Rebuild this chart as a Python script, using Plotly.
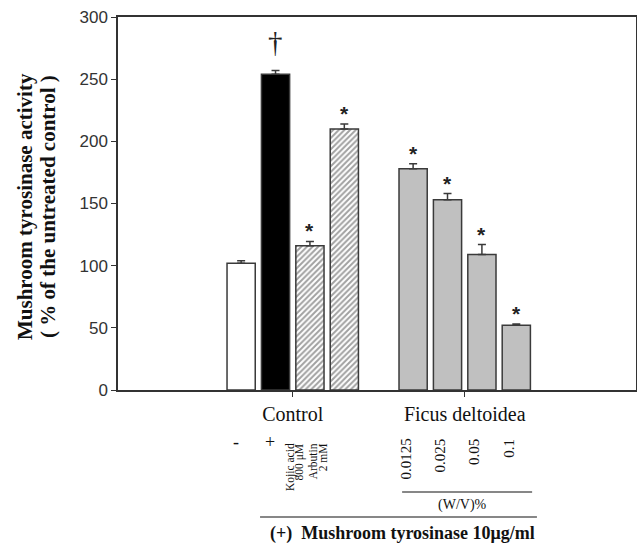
import plotly.graph_objects as go

# ---- data ----
positions = [0, 1, 2, 3, 5, 6, 7, 8]
values = [102, 254, 116, 210, 178, 153, 109, 52]
errors = [2, 3, 3.5, 4, 4, 5, 8, 1]
fills = ["white", "black", "white", "white", "#c0c0c0", "#c0c0c0", "#c0c0c0", "#c0c0c0"]
patterns = ["", "", "/", "/", "", "", "", ""]
marks = ["", "†", "*", "*", "*", "*", "*", "*"]
group_ticks = [1.5, 6.5]
group_labels = ["Control", "Ficus deltoidea"]
y_ticks = [0, 50, 100, 150, 200, 250, 300]
conc_labels = ["0.0125", "0.025", "0.05", "0.1"]

W, H = 637, 544
L, R, T, B = 118, 1, 17, 154
pw = W - L - R
ph = H - T - B

def py(px):
    return (H - B - px) / ph

def pxr(px):
    return (px - L) / pw

serif = "Liberation Serif"
sans = "Liberation Sans"

fig = go.Figure()
fig.add_trace(go.Bar(
    x=positions, y=values, width=0.82,
    marker=dict(color=fills, line=dict(color="#3a3a3a", width=1.5),
                pattern=dict(shape=patterns, fgcolor="#2a2a2a", bgcolor="white",
                             size=4, solidity=0.5, fillmode="overlay")),
    error_y=dict(type="data", symmetric=False, array=errors,
                 arrayminus=[0] * len(errors), color="#3a3a3a",
                 thickness=1.5, width=4),
    showlegend=False,
))

ann = []
for p, v, e, m in zip(positions, values, errors, marks):
    if m == "*":
        ann.append(dict(x=p, y=v + e, xref="x", yref="y", text="<b>*</b>", showarrow=False,
                        yanchor="bottom", yshift=-3,
                        font=dict(family=sans, size=21, color="#222")))
    elif m == "†":
        ann.append(dict(x=p, y=v + e, xref="x", yref="y", text="†", showarrow=False,
                        yanchor="bottom", yshift=10,
                        font=dict(family=serif, size=29, color="#222")))

ann.append(dict(x=positions[0], y=py(442), xref="x", yref="paper", text="-",
                showarrow=False, xshift=-5, yanchor="middle",
                font=dict(family=serif, size=18, color="#111")))
ann.append(dict(x=positions[1], y=py(442), xref="x", yref="paper", text="+",
                showarrow=False, xshift=-6, yanchor="middle",
                font=dict(family=serif, size=18, color="#111")))
rot_small = [("Kojic acid", positions[2], -20), ("800 μM", positions[2], -10),
             ("Arbutin", positions[3], -31), ("2 mM", positions[3], -21)]
for txt, p, xs in rot_small:
    ann.append(dict(x=p, y=py(441), xref="x", yref="paper", text=txt, textangle=-90,
                    showarrow=False, xshift=xs, xanchor="center", yanchor="top",
                    font=dict(family=serif, size=11.5, color="#111")))
for txt, p in zip(conc_labels, positions[4:]):
    ann.append(dict(x=p, y=py(437), xref="x", yref="paper", text=txt, textangle=-90,
                    showarrow=False, xshift=-8, xanchor="center", yanchor="top",
                    font=dict(family=serif, size=15, color="#111")))
ann.append(dict(x=6.45, y=py(505), xref="x", yref="paper", text="(W/V)%",
                showarrow=False, yanchor="middle",
                font=dict(family=serif, size=14, color="#111")))
ann.append(dict(x=4.68, y=py(533), xref="x", yref="paper",
                text="<b>(+)  Mushroom tyrosinase 10μg/ml</b>",
                showarrow=False, yanchor="middle",
                font=dict(family=serif, size=18, color="#111")))

ann.append(dict(x=pxr(25), y=py(207), xref="paper", yref="paper",
                text="<b>Mushroom tyrosinase activity</b>", textangle=-90,
                showarrow=False, xanchor="center", yanchor="middle",
                font=dict(family=serif, size=21, color="#111")))
ann.append(dict(x=pxr(48), y=py(207), xref="paper", yref="paper",
                text="<b>( % of the untreated control )</b>", textangle=-90,
                showarrow=False, xanchor="center", yanchor="middle",
                font=dict(family=serif, size=21, color="#111")))

shapes = [
    dict(type="line", xref="x", yref="paper", x0=4.68, x1=8.46, y0=py(492), y1=py(492),
         line=dict(color="#111", width=1.2)),
    dict(type="line", xref="x", yref="paper", x0=0.55, x1=8.6, y0=py(517), y1=py(517),
         line=dict(color="#111", width=1.2)),
]

fig.update_layout(
    width=W, height=H,
    margin=dict(l=L, r=R, t=T, b=B, pad=0, autoexpand=False),
    paper_bgcolor="white", plot_bgcolor="white",
    annotations=ann, shapes=shapes,
    xaxis=dict(range=[-3.58, 11.48], tickvals=group_ticks, ticktext=group_labels,
               ticks="outside", ticklen=5, tickwidth=1.2, tickcolor="#333",
               showline=True, mirror=True, linecolor="#333", linewidth=1.5,
               showgrid=False, zeroline=False, automargin=False,
               tickfont=dict(family=serif, size=20, color="#111")),
    yaxis=dict(range=[0, 300], tickvals=y_ticks,
               ticks="outside", ticklen=5, tickwidth=1.2, tickcolor="#333",
               showline=True, mirror=True, linecolor="#333", linewidth=1.5,
               showgrid=False, zeroline=False, automargin=False,
               tickfont=dict(family=sans, size=17, color="#333")),
)

fig.write_html("out.html", config={"displayModeBar": False},
               post_script="document.body.style.margin='0';document.body.style.overflow='hidden';")
